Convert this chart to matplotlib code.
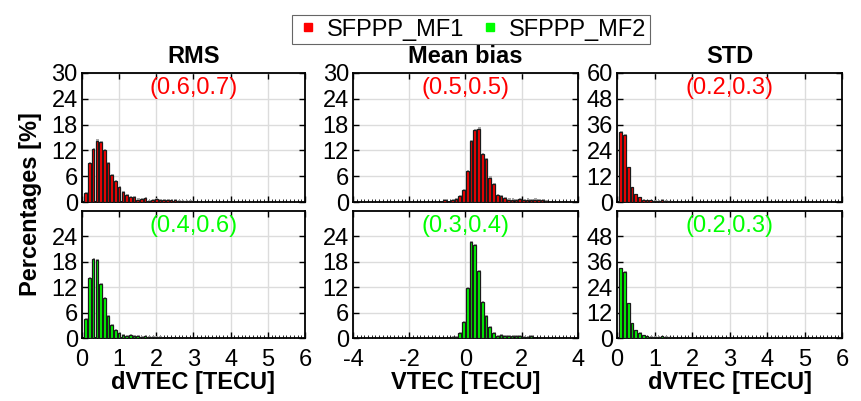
import numpy as np
import matplotlib
matplotlib.use('Agg')
from matplotlib import pyplot as plt
from matplotlib.ticker import MultipleLocator

plt.rcParams['font.family'] = ['Liberation Sans', 'DejaVu Sans']
plt.rcParams['axes.unicode_minus'] = False

# RMS / STD: bins of 0.1, centres 0.1, 0.2, ...
rms_mf1 = [2.1, 9.0, 12.3, 14.3, 13.9, 12.0, 9.1, 6.2, 4.8, 3.4, 2.3, 1.7, 1.2, 1.2, 0.6,
           0.7, 0.9, 0.3, 0.5, 0.8, 0.5, 0.5, 0.5, 0.5, 0.5, 0.3, 0.3, 0.3, 0.2, 0.1]
rms_mf2 = [4.5, 14.2, 18.6, 18.4, 12.7, 9.4, 5.3, 3.0, 2.0, 1.2, 0.8, 0.5, 0.7, 0.5, 0.5,
           0.3, 0.4, 0.2, 0.2, 0.2, 0.2, 0.1, 0.1, 0.1, 0.1, 0.1, 0.1, 0.1]
std_mf1 = [32.7, 31.3, 16.2, 6.9, 3.6, 2.2, 1.2, 0.8, 0.8, 0.6, 0.6, 1.1, 0.5, 0.3, 0.2]
std_mf2 = [32.9, 31.3, 16.4, 7.0, 3.7, 2.5, 1.4, 0.8, 0.6, 0.5, 0.5, 0.9, 0.5, 0.3, 0.2]

# mean bias: 60 bins over [-4, 4], first listed bin index given
bias_mf1_start = 24
bias_mf1 = [0.4, 0.1, 0.4, 0.8, 1.4, 2.9, 7.2, 14.2, 16.7, 17.1, 11.2, 9.9, 5.7, 4.1, 1.7,
            1.5, 0.9, 0.6, 0.6, 0.4, 0.7, 0.5, 0.6, 0.4, 0.6, 0.4, 0.4, 0.2]
bias_mf2_start = 26
bias_mf2 = [0.3, 0.3, 1.2, 3.7, 11.8, 22.7, 21.9, 15.8, 8.4, 5.1, 2.5, 1.2, 0.5, 0.8, 0.5,
            0.5, 0.5, 0.5, 0.4, 0.3, 0.3, 0.4, 0.1]

labels_mf1 = ['(0.6,0.7)', '(0.5,0.5)', '(0.2,0.3)']
labels_mf2 = ['(0.4,0.6)', '(0.3,0.4)', '(0.2,0.3)']
titles = ['RMS', 'Mean bias', 'STD']
xlabels = ['dVTEC [TECU]', 'VTEC [TECU]', 'dVTEC [TECU]']

RED = '#FF0000'
GREEN = '#00FF00'
FS = 17

bw = 8.0 / 60


def centers_01(vals):
    return 0.1 * np.arange(1, len(vals) + 1)


def centers_bias(start, vals):
    return -4 + (np.arange(start, start + len(vals)) + 0.5) * bw


def draw_bars(ax, x, h, w, color):
    h = np.asarray(h)
    # grey shadow behind, coloured bar with dark outline
    ax.bar(x + w * 0.3, h + 0.25, width=w, color='#a8a8a8', lw=0, zorder=2)
    ax.bar(x, h, width=w, color=color, edgecolor='#1a1a1a', lw=0.9, zorder=3)


fig = plt.figure(figsize=(8.61, 4.01), dpi=100)

lefts = [0.0952, 0.410, 0.7166]
widths = [0.259, 0.261, 0.2614]
rows = [(0.496, 0.322), (0.157, 0.317)]

for c in range(3):
    for r in range(2):
        ax = fig.add_axes([lefts[c], rows[r][0], widths[c], rows[r][1]])
        color = RED if r == 0 else GREEN
        if c == 0:
            vals = rms_mf1 if r == 0 else rms_mf2
            draw_bars(ax, centers_01(vals), vals, 0.07, color)
            ax.set_xlim(0, 6)
            ax.xaxis.set_major_locator(MultipleLocator(1))
            ax.xaxis.set_minor_locator(MultipleLocator(0.1))
            ymax, ystep = 30, 6
        elif c == 1:
            if r == 0:
                vals = bias_mf1
                x = centers_bias(bias_mf1_start, vals)
            else:
                vals = bias_mf2
                x = centers_bias(bias_mf2_start, vals)
            draw_bars(ax, x, vals, bw * 0.7, color)
            ax.set_xlim(-4, 4)
            ax.xaxis.set_major_locator(MultipleLocator(2))
            ax.xaxis.set_minor_locator(MultipleLocator(bw))
            ymax, ystep = 30, 6
        else:
            vals = std_mf1 if r == 0 else std_mf2
            draw_bars(ax, centers_01(vals), vals, 0.07, color)
            ax.set_xlim(0, 6)
            ax.xaxis.set_major_locator(MultipleLocator(1))
            ax.xaxis.set_minor_locator(MultipleLocator(0.1))
            ymax, ystep = 60, 12
        ax.set_ylim(0, ymax)
        if r == 0:
            ax.set_yticks(np.arange(0, ymax + 1, ystep))
        else:
            ax.set_yticks(np.arange(0, ymax, ystep))
        ax.grid(True, color='#dcdcdc', lw=1.0, zorder=0)
        ax.set_axisbelow(True)
        ax.tick_params(direction='in', top=True, right=True, length=4, width=1,
                       labelsize=FS, pad=3)
        ax.tick_params(axis='x', pad=8)
        ax.tick_params(which='minor', direction='in', length=2, width=0.6,
                       top=False, right=False)
        for s in ax.spines.values():
            s.set_linewidth(1.3)
        lab = labels_mf1[c] if r == 0 else labels_mf2[c]
        ax.text(0.5, 0.97, lab, transform=ax.transAxes, ha='center', va='top',
                fontsize=FS, color=color, zorder=10)
        if r == 0:
            ax.set_title(titles[c], fontsize=FS, fontweight='bold', pad=7)
            ax.tick_params(labelbottom=False)
        else:
            ax.set_xlabel(xlabels[c], fontsize=FS, fontweight='bold', labelpad=0)

fig.text(0.036, 0.49, 'Percentages [%]', rotation=90, ha='center', va='center',
         fontsize=FS, fontweight='bold')

h1 = plt.Line2D([], [], marker='s', color=RED, ls='none', markersize=6)
h2 = plt.Line2D([], [], marker='s', color=GREEN, ls='none', markersize=6)
leg = fig.legend([h1, h2], ['SFPPP_MF1', 'SFPPP_MF2'], loc='upper center',
                 bbox_to_anchor=(0.547, 0.992), ncol=2, fontsize=FS, frameon=True,
                 fancybox=False, edgecolor='#404040', handletextpad=0.3,
                 columnspacing=0.6, borderpad=0.15, handlelength=1.0)
leg.get_frame().set_linewidth(0.8)

fig.savefig('out.png', dpi=100)
